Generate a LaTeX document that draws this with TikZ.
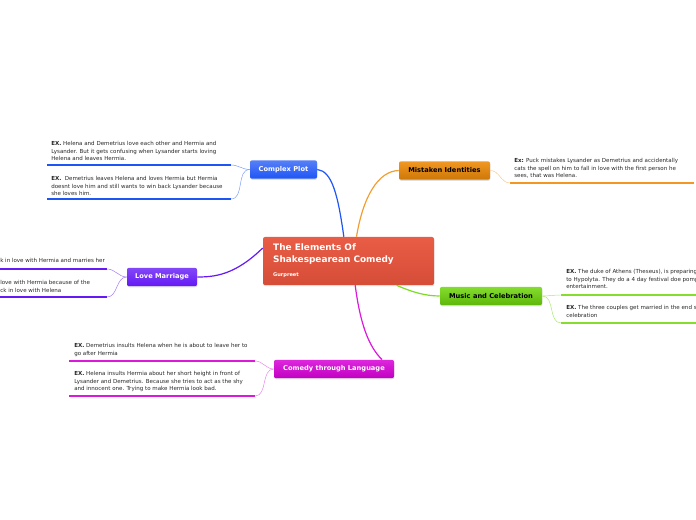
\documentclass[tikz,border=0pt]{standalone}
\usepackage{fontspec}
\setmainfont{DejaVu Sans}
\usetikzlibrary{shadows}
\definecolor{rootred}{RGB}{232,84,60}
\definecolor{plotblue}{RGB}{30,85,245}
\definecolor{mistorange}{RGB}{240,140,10}
\definecolor{musicgreen}{RGB}{110,215,10}
\definecolor{lovepurple}{RGB}{100,25,245}
\definecolor{langmagenta}{RGB}{215,0,215}
\definecolor{notegray}{RGB}{40,40,40}

\begin{document}
\begin{tikzpicture}[x=0.75pt,y=0.75pt,yscale=-1,xscale=1,
  topicbox/.style={rounded corners=1.5pt, inner sep=0pt, minimum height=13.8pt,
    font=\fontsize{5}{6}\selectfont\bfseries,
    drop shadow={shadow xshift=0.2pt, shadow yshift=-0.8pt, opacity=0.25}},
  notetext/.style={anchor=north west, align=flush left, inner sep=0pt, text=notegray,
    font=\fontsize{4.15}{5.6}\selectfont},
  underline/.style={line width=1.9pt},
  mainlink/.style={line width=0.9pt},
  sublink/.style={line width=0.35pt}]
\path[use as bounding box] (0,0) rectangle (696,520);
\clip (0,0) rectangle (696,520);

%Central topic
\node[rounded corners=1.5pt, top color=rootred!95!white, bottom color=rootred!92!black,
  minimum width=128.25pt, minimum height=36pt, text width=113pt, inner xsep=7.5pt,
  align=flush left, text=white,
  drop shadow={shadow xshift=0.2pt, shadow yshift=-0.8pt, opacity=0.25}]
  (root) at (348.5,261) {\fontsize{6.7}{9}\selectfont\bfseries The Elements Of\\
  \fontsize{6.7}{9}\selectfont\bfseries Shakespearean Comedy\\[-1.5pt]
  \fontsize{3.8}{6}\selectfont\bfseries Gurpreet};

%Main topics
\node[topicbox, top color=plotblue!75!white, bottom color=plotblue, text=white, minimum width=50.25pt]
  (plot) at (283.5,169.5) {Complex Plot};
\node[topicbox, top color=mistorange!90!white, bottom color=mistorange!85!black, text=black, minimum width=68.25pt]
  (mist) at (444.5,170.5) {Mistaken Identities};
\node[topicbox, top color=musicgreen!85!white, bottom color=musicgreen!85!black, text=black, minimum width=76.5pt]
  (music) at (491,296) {Music and Celebration};
\node[topicbox, top color=lovepurple!80!white, bottom color=lovepurple, text=white, minimum width=52.5pt]
  (love) at (162,277) {Love Marriage};
\node[topicbox, top color=langmagenta!85!white, bottom color=langmagenta!90!black, text=white, minimum width=90pt]
  (lang) at (334,369) {Comedy through Language};

%Links from the centre
\draw[mainlink, plotblue] ([xshift=-3.5pt]root.north) .. controls (338,195) and (332,171) .. (plot.east);
\draw[mainlink, mistorange!85!white] ([xshift=6pt]root.north) .. controls (363,197) and (378,171) .. (mist.west);
\draw[mainlink, musicgreen!90!white] ([xshift=36pt]root.south) .. controls (412,292) and (425,296) .. (music.west);
\draw[mainlink, lovepurple] ([yshift=-9.75pt]root.west) .. controls (235,275) and (215,277) .. (love.east);
\draw[mainlink, langmagenta!90!white] ([xshift=5pt]root.south) .. controls (360,322) and (368,346) .. ([xshift=36pt]lang.north);

%Complex Plot notes
\node[notetext] (plotA) at (51,141.5) {\textbf{EX.} Helena and Demetrius love each other and Hermia and\\
  Lysander. But it gets confusing when Lysander starts loving\\
  Helena and leaves Hermia.};
\coordinate (plotAl) at (47,165);
\coordinate (plotAr) at (231,165);
\draw[underline, plotblue] (plotAl) -- (plotAr);
\node[notetext] (plotB) at (51,176.5) {\textbf{EX.}\ \ Demetrius leaves Helena and loves Hermia but Hermia\\
  doesnt love him and still wants to win back Lysander because\\
  she loves him.};
\coordinate (plotBl) at (47,199);
\coordinate (plotBr) at (231,199);
\draw[underline, plotblue] (plotBl) -- (plotBr);
\draw[sublink, plotblue!60!white] (plot.west) to[out=180,in=0] (plotAr);
\draw[sublink, plotblue!60!white] (plot.west) to[out=180,in=0] (plotBr);

%Mistaken Identities notes
\node[notetext] (mistA) at (514,158.5) {\textbf{Ex:} Puck mistakes Lysander as Demetrius and accidentally\\
  cats the spell on him to fall in love with the first person he\\
  sees, that was Helena.};
\coordinate (mistAl) at (510,183);
\coordinate (mistAr) at (694,183);
\draw[underline, mistorange!90!white] (mistAl) -- (mistAr);
\draw[sublink, mistorange!50!white] (mist.east) to[out=0,in=180] (mistAl);

%Music and Celebration notes
\node[notetext] (musicA) at (566,269.5) {\textbf{EX.} The duke of Athens (Theseus), is preparing\\
  to Hypolyta. They do a 4 day festival doe pomp\\
  entertainment.};
\coordinate (musicAl) at (561,295);
\coordinate (musicAr) at (696,295);
\draw[underline, musicgreen!85!white] (musicAl) -- (musicAr);
\node[notetext] (musicB) at (566,305.5) {\textbf{EX.} The three couples get married in the end s\\
  celebration};
\coordinate (musicBl) at (561,323);
\coordinate (musicBr) at (696,323);
\draw[underline, musicgreen!85!white] (musicBl) -- (musicBr);
\draw[sublink, musicgreen!60!white] (music.east) to[out=0,in=180] (musicAl);
\draw[sublink, musicgreen!60!white] (music.east) to[out=0,in=180] (musicBl);

%Love Marriage notes
\node[notetext] (loveA) at (0,258.5) {k in love with Hermia and marries her};
\coordinate (loveAl) at (0,269);
\coordinate (loveAr) at (107,269);
\draw[underline, lovepurple] (loveAl) -- (loveAr);
\node[notetext] (loveB) at (0,280.5) {love with Hermia because of the\\
  ck in love with Helena};
\coordinate (loveBl) at (0,297);
\coordinate (loveBr) at (107,297);
\draw[underline, lovepurple] (loveBl) -- (loveBr);
\draw[sublink, lovepurple!60!white] (love.west) to[out=180,in=0] (loveAr);
\draw[sublink, lovepurple!60!white] (love.west) to[out=180,in=0] (loveBr);

%Comedy through Language notes
\node[notetext] (langA) at (74,343.5) {\textbf{EX.} Demetrius insults Helena when he is about to leave her to\\
  go after Hermia};
\coordinate (langAl) at (69,361);
\coordinate (langAr) at (255,361);
\draw[underline, langmagenta!90!white] (langAl) -- (langAr);
\node[notetext] (langB) at (74,371.5) {\textbf{EX.} Helena insults Hermia about her short height in front of\\
  Lysander and Demetrius. Because she tries to act as the shy\\
  and innocent one. Trying to make Hermia look bad.};
\coordinate (langBl) at (69,396);
\coordinate (langBr) at (255,396);
\draw[underline, langmagenta!90!white] (langBl) -- (langBr);
\draw[sublink, langmagenta!50!white] (lang.west) to[out=180,in=0] (langAr);
\draw[sublink, langmagenta!50!white] (lang.west) to[out=180,in=0] (langBr);

\end{tikzpicture}
\end{document}
